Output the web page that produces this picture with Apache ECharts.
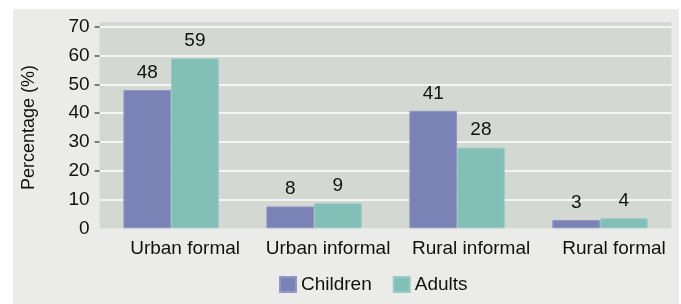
<!DOCTYPE html>
<html>
<head>
<meta charset="utf-8">
<script src="https://cdn.jsdelivr.net/npm/echarts@6/dist/echarts.min.js"></script>
<style>
    html, body { margin: 0; padding: 0; background: #fff; }
    #panel { position: absolute; left: 13px; top: 9px; width: 666px; height: 295px; background: #ebece9; }
    #chart { position: absolute; left: 0; top: 0; width: 681px; height: 304px; }
</style>
</head>
<body>
<div id="panel"></div>
<div id="chart"></div>
<script>
    // categories and values
    const categories = ['Urban formal', 'Urban informal', 'Rural informal', 'Rural formal']
    const children = [48, 7.6, 40.8, 2.9]
    const adults = [59, 8.7, 28, 3.5]
    const yTicks = { min: 0, max: 70, step: 10 }
    // the original only draws tick marks from 20 upward
    const tickMarks = { min: 20, max: 70 }

    const font = 'Liberation Sans, Arial, sans-serif'

    var myChart = echarts.init(document.getElementById('chart'))

    var plot = { left: 99.6, right: 9.5 }
    var pxPerUnit = (304 - 75.7 - 26.7) / (yTicks.max - yTicks.min)

    var option = {
        animation: false,
        textStyle: { fontFamily: font },
        grid: [
            // only the grey plot background, a bit taller than the axis
            Object.assign({ top: 22, bottom: 75.7, show: true, backgroundColor: '#d4d8d3', borderWidth: 0 }, plot),
            Object.assign({ top: 26.7, bottom: 75.7 }, plot),
            // tick marks only
            Object.assign({ top: 26.7, bottom: 75.7 + (tickMarks.min - yTicks.min) * pxPerUnit }, plot)
        ],
        legend: {
            data: ['Children', 'Adults'],
            left: 274,
            top: 270,
            icon: 'rect',
            itemWidth: 16,
            itemHeight: 15,
            itemGap: 21,
            textStyle: { fontSize: 19, color: '#111', fontFamily: font }
        },
        xAxis: [
            { gridIndex: 0, type: 'category', show: false, data: categories },
            {
                gridIndex: 1,
                type: 'category',
                data: categories,
                axisLine: { show: false },
                axisTick: { show: false },
                axisLabel: {
                    fontSize: 19,
                    color: '#111',
                    margin: 11,
                    padding: [0, 0, 0, 28],
                    interval: 0
                }
            },
            { gridIndex: 2, type: 'category', show: false, data: categories }
        ],
        yAxis: [
            { gridIndex: 0, type: 'value', show: false, min: 0, max: 1 },
            {
                gridIndex: 1,
                type: 'value',
                min: yTicks.min,
                max: yTicks.max,
                interval: yTicks.step,
                name: 'Percentage (%)',
                nameLocation: 'middle',
                nameGap: 62,
                nameTextStyle: { fontSize: 18, color: '#111' },
                axisLine: { show: false },
                axisTick: { show: false },
                axisLabel: { fontSize: 19, color: '#111', margin: 10 },
                splitLine: {
                    show: true,
                    showMinLine: false,
                    lineStyle: { color: '#ffffff', width: 1.6 }
                }
            },
            {
                gridIndex: 2,
                type: 'value',
                min: tickMarks.min,
                max: tickMarks.max,
                interval: yTicks.step,
                axisLine: { show: false },
                axisLabel: { show: false },
                splitLine: { show: false },
                axisTick: { show: true, length: 5, lineStyle: { color: '#555', width: 1.5 } }
            }
        ],
        series: [
            {
                name: 'Children',
                type: 'bar',
                xAxisIndex: 1,
                yAxisIndex: 1,
                data: children,
                barGap: '0%',
                barCategoryGap: '33.3%',
                itemStyle: { color: '#7a82b6', borderColor: '#9298c4', borderWidth: 1 },
                label: {
                    show: true,
                    position: 'top',
                    distance: 8,
                    fontSize: 19,
                    color: '#111',
                    formatter: p => Math.round(p.value)
                }
            },
            {
                name: 'Adults',
                type: 'bar',
                xAxisIndex: 1,
                yAxisIndex: 1,
                data: adults,
                barGap: '0%',
                barCategoryGap: '33.3%',
                itemStyle: { color: '#82bfb6', borderColor: '#98cbc3', borderWidth: 1 },
                label: {
                    show: true,
                    position: 'top',
                    distance: 8,
                    fontSize: 19,
                    color: '#111',
                    formatter: p => Math.round(p.value)
                }
            }
        ]
    }

    myChart.setOption(option)
</script>
</body>
</html>
